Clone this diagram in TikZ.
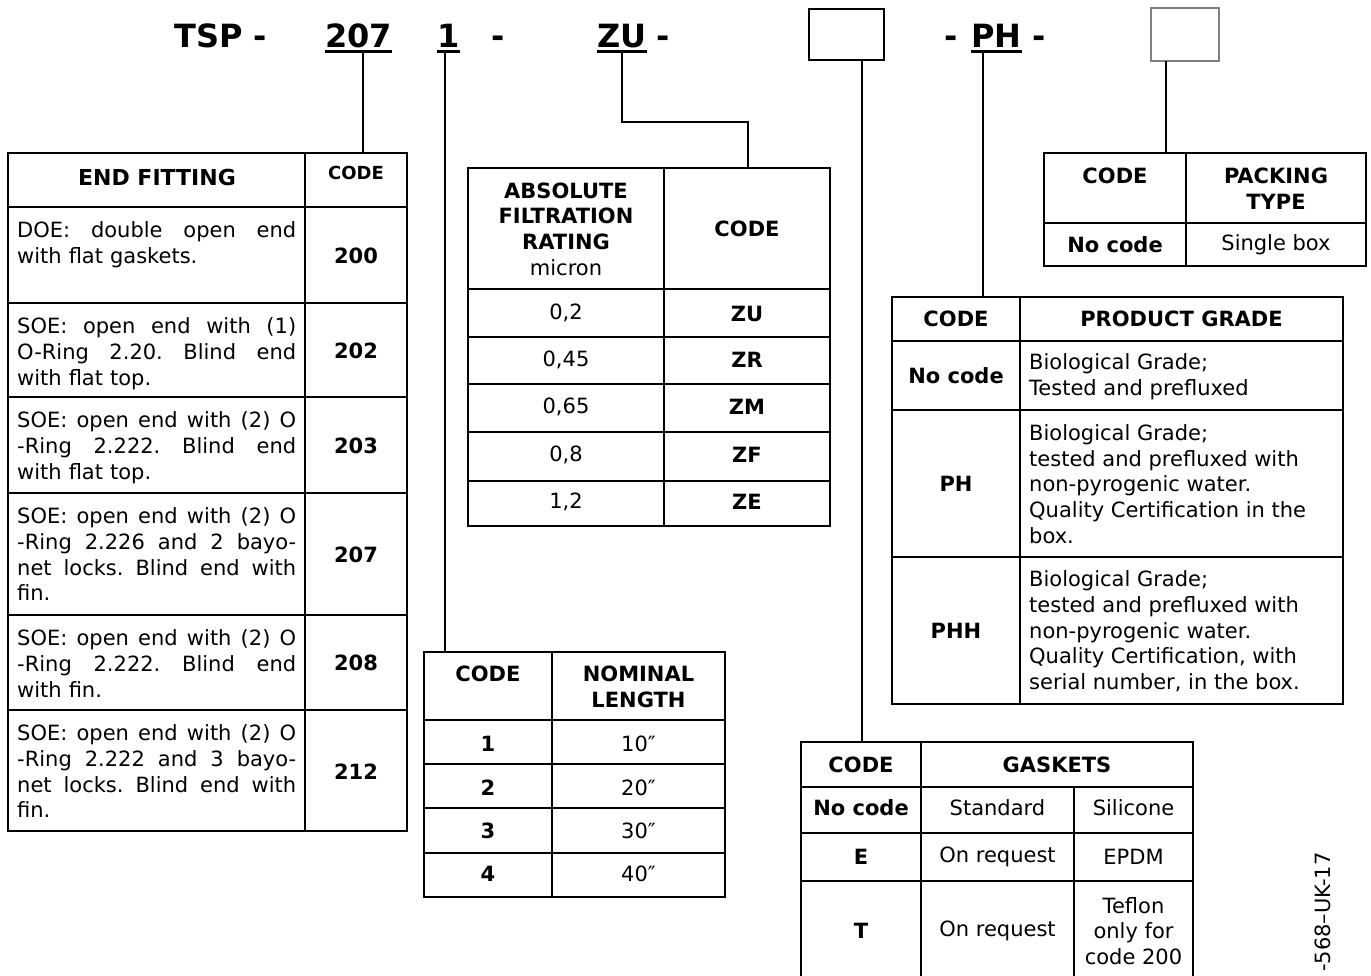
\documentclass[tikz,border=0pt]{standalone}
\usepackage{fontspec}
\setmainfont{DejaVu Sans}
\usetikzlibrary{calc}
\newcommand\fr{\fontsize{21}{25.7}\selectfont}
\newcommand\fbd{\fontsize{21}{25.7}\selectfont\bfseries}
\newcommand\jl[1]{\leavevmode\hbox to 279pt{\spaceskip=0.3em plus 1fil\xspaceskip=0.3em plus 1fil #1}}
\begin{document}
\begin{tikzpicture}[x=1pt,y=-1pt,
  tbox/.style={draw, line width=2.8pt, inner sep=0pt, outer sep=0pt, anchor=north west},
  grid/.style={line width=2.8pt},
  conn/.style={line width=2pt},
  ttl/.style={font=\fontsize{32}{38}\selectfont\bfseries, inner sep=0pt, anchor=base west},
  ul/.style={line width=3pt},
  tx/.style={font=\fr, inner sep=0pt, align=center},
  hb/.style={font=\fbd, inner sep=0pt, align=center},
  desc/.style={font=\fr, inner sep=0pt, anchor=north west, text width=279pt, align=left},
  pg/.style={font=\fr, inner sep=0pt, anchor=west, align=left},
]
\useasboundingbox (0,0) rectangle (1371,975);

% ---------- title line ----------
\node[ttl] (tsp) at (174,47) {TSP -};
\node[ttl] (u207) at (325,47) {207};
\node[ttl] (u1) at (437,47) {1};
\node[ttl] (d1) at (491,47) {-};
\node[ttl] (uZU) at (597,47) {ZU};
\node[ttl] (d2) at (656,47) {-};
\node[ttl] (d3) at (944,47) {-};
\node[ttl] (uPH) at (971,47) {PH};
\node[ttl] (d4) at (1032,47) {-};
\foreach \n in {u207,u1,uZU,uPH}
  \draw[ul] ($(\n.south west)+(0,4)$) -- ($(\n.south east)+(0,4)$);
\node[tbox, line width=2.4pt, minimum width=75pt, minimum height=51pt] (box1) at (809,9) {};
\node[tbox, draw=gray, line width=1.4pt, minimum width=68pt, minimum height=53pt] (box2) at (1151,8) {};

% ---------- END FITTING table ----------
\node[tbox, minimum width=399pt, minimum height=678pt] (eft) at (8,153) {};
\draw[grid] (305,153) -- (305,831);
\foreach \y in {207,303,397,493,615,710} \draw[grid] (8,\y) -- (407,\y);
\node[hb, font=\fontsize{22}{26}\selectfont\bfseries] (efh) at (157,177) {END FITTING};
\node[hb, font=\fontsize{18}{22}\selectfont\bfseries] (efc) at (356,173) {CODE};
\node[desc] (e200) at (17,219.5) {\strut\jl{DOE: double open end}\\with flat gaskets.};
\node[desc] (e202) at (17,315.5) {\strut\jl{SOE: open end with (1)}\\\jl{O-Ring 2.20. Blind end}\\with flat top.};
\node[desc] (e203) at (17,409.5) {\strut\jl{SOE: open end with (2) O}\\\jl{-Ring 2.222. Blind end}\\with flat top.};
\node[desc] (e207) at (17,505.5) {\strut\jl{SOE: open end with (2) O}\\\jl{-Ring 2.226 and 2 bayo-}\\\jl{net locks. Blind end with}\\fin.};
\node[desc] (e208) at (17,627.5) {\strut\jl{SOE: open end with (2) O}\\\jl{-Ring 2.222. Blind end}\\with fin.};
\node[desc] (e212) at (17,722.5) {\strut\jl{SOE: open end with (2) O}\\\jl{-Ring 2.222 and 3 bayo-}\\\jl{net locks. Blind end with}\\fin.};
\node[hb] (c200) at (356,256) {200};
\node[hb] (c202) at (356,351) {202};
\node[hb] (c203) at (356,446) {203};
\node[hb] (c207) at (356,555) {207};
\node[hb] (c208) at (356,663) {208};
\node[hb] (c212) at (356,772) {212};

% ---------- FILTRATION table ----------
\node[tbox, minimum width=362pt, minimum height=358pt] (ftab) at (468,168) {};
\draw[grid] (664,168) -- (664,526);
\foreach \y in {289,337,384,432,481} \draw[grid] (468,\y) -- (830,\y);
\node[hb] (fh) at (566,229) {ABSOLUTE\\FILTRATION\\RATING\\\textmd{micron}};
\node[hb] (fc) at (747,229) {CODE};
\node[tx] (f1) at (566,313) {0,2};
\node[tx] (f2) at (566,360) {0,45};
\node[tx] (f3) at (566,407) {0,65};
\node[tx] (f4) at (566,455) {0,8};
\node[tx] (f5) at (566,502) {1,2};
\node[hb] (z1) at (747,314) {ZU};
\node[hb] (z2) at (747,360) {ZR};
\node[hb] (z3) at (747,407) {ZM};
\node[hb] (z4) at (747,455) {ZF};
\node[hb] (z5) at (747,502) {ZE};

% ---------- PACKING table ----------
\node[tbox, minimum width=322pt, minimum height=113pt] (ptab) at (1044,153) {};
\draw[grid] (1186,153) -- (1186,266);
\draw[grid] (1044,223) -- (1366,223);
\node[hb] (pc) at (1115,176) {CODE};
\node[hb] (ph) at (1276,188.5) {PACKING\\TYPE};
\node[hb] (pn) at (1115,245) {No code};
\node[tx] (ps) at (1276,245) {Single box};

% ---------- PRODUCT GRADE table ----------
\node[tbox, minimum width=451pt, minimum height=407pt] (gtab) at (892,297) {};
\draw[grid] (1020,297) -- (1020,704);
\foreach \y in {341,410,557} \draw[grid] (892,\y) -- (1343,\y);
\node[hb] (gc) at (956,319) {CODE};
\node[hb] (gh) at (1181.5,319) {PRODUCT GRADE};
\node[hb] (g0) at (956,376) {No code};
\node[hb] (g1) at (956,484) {PH};
\node[hb] (g2) at (956,631) {PHH};
\node[pg] (t0) at (1029,376.5) {Biological Grade;\\Tested and prefluxed};
\node[pg] (t1) at (1029,484) {Biological Grade;\\tested and prefluxed with\\non-pyrogenic water.\\Quality Certification in the\\box.};
\node[pg] (t2) at (1029,631.5) {Biological Grade;\\tested and prefluxed with\\non-pyrogenic water.\\Quality Certification, with\\serial number, in the box.};

% ---------- NOMINAL LENGTH table ----------
\node[tbox, minimum width=301pt, minimum height=245pt] (ntab) at (424,652) {};
\draw[grid] (552,652) -- (552,897);
\foreach \y in {720,764,808,853} \draw[grid] (424,\y) -- (725,\y);
\node[hb] (nc) at (488,674) {CODE};
\node[hb] (nh) at (638.5,687) {NOMINAL\\LENGTH};
\node[hb] (n1) at (488,744) {1};
\node[hb] (n2) at (488,788) {2};
\node[hb] (n3) at (488,831) {3};
\node[hb] (n4) at (488,874) {4};
\node[tx] (l1) at (638.5,744) {10″};
\node[tx] (l2) at (638.5,788) {20″};
\node[tx] (l3) at (638.5,831) {30″};
\node[tx] (l4) at (638.5,874) {40″};

% ---------- GASKETS table ----------
\node[tbox, minimum width=392pt, minimum height=262pt] (ktab) at (801,742) {};
\draw[grid] (921,742) -- (921,1004);
\draw[grid] (1074,787) -- (1074,1004);
\foreach \y in {787,833,881} \draw[grid] (801,\y) -- (1193,\y);
\node[hb] (kc) at (861,765) {CODE};
\node[hb] (kh) at (1057,765) {GASKETS};
\node[hb] (k0) at (861,808) {No code};
\node[tx] (k0a) at (997.5,808) {Standard};
\node[tx] (k0b) at (1133.5,808) {Silicone};
\node[hb] (k1) at (861,857) {E};
\node[tx] (k1a) at (997.5,857) {On request};
\node[tx] (k1b) at (1133.5,857) {EPDM};
\node[hb] (k2) at (861,931) {T};
\node[tx] (k2a) at (997.5,931) {On request};
\node[tx] (k2b) at (1133.5,931) {Teflon\\only for\\code 200};

% ---------- connectors ----------
\coordinate (a207) at ($(u207.south)+(4,5.5)$);
\draw[conn] (a207) -- (a207 |- eft.north);
\coordinate (a1) at ($(u1.south)+(-3,5.5)$);
\draw[conn] (a1) -- (a1 |- ntab.north);
\coordinate (aZU) at ($(uZU.south)+(0,5.5)$);
\coordinate (kZU) at (748,122);
\draw[conn] (aZU) |- (kZU) -- (kZU |- ftab.north);
\coordinate (ab1) at ($(box1.south)+(15,0)$);
\draw[conn] (ab1) -- (ab1 |- ktab.north);
\coordinate (aPH) at ($(uPH.south)+(-13,5.5)$);
\draw[conn] (aPH) -- (aPH |- gtab.north);
\coordinate (ab2) at ($(box2.south)+(-19,0)$);
\draw[conn] (ab2) -- (ab2 |- ptab.north);

% ---------- side reference ----------
\node[tx, rotate=90] (docref) at (1323,912) {-568–UK-17};
\end{tikzpicture}
\end{document}
